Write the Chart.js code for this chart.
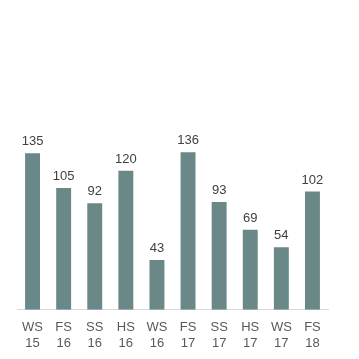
<!DOCTYPE html>
<html>
<head>
<meta charset="utf-8">
<script src="https://cdn.jsdelivr.net/npm/chart.js@4/dist/chart.umd.min.js"></script>
<style>
  html, body { margin: 0; padding: 0; background: #fff; }
  #wrap { width: 359px; height: 359px; }
</style>
</head>
<body>
<div id="wrap"><canvas id="myChart"></canvas></div>
<script>
// semesters and counts
var semesters = [['WS','15'], ['FS','16'], ['SS','16'], ['HS','16'], ['WS','16'],
                 ['FS','17'], ['SS','17'], ['HS','17'], ['WS','17'], ['FS','18']];
var counts = [135, 105, 92, 120, 43, 136, 93, 69, 54, 102];

// value labels over the bars
var valueLabels = {
  id: 'valueLabels',
  afterDatasetsDraw: function(chart) {
    var ctx = chart.ctx;
    var meta = chart.getDatasetMeta(0);
    ctx.save();
    ctx.font = '13px "Liberation Sans", Arial, sans-serif';
    ctx.fillStyle = '#404040';
    ctx.textAlign = 'center';
    ctx.textBaseline = 'alphabetic';
    meta.data.forEach(function(bar, i) {
      ctx.fillText(counts[i], bar.x, bar.y - 8);
    });
    ctx.restore();
  }
};

var ctx = document.getElementById('myChart').getContext('2d');
var myChart = new Chart(ctx, {
  type: 'bar',
  data: {
    labels: semesters,
    datasets: [{
      label: 'Anzahl',
      data: counts,
      backgroundColor: '#6a8888',
      barPercentage: 0.96,
      categoryPercentage: 0.5
    }]
  },
  options: {
    responsive: true,
    maintainAspectRatio: false,
    animation: false,
    layout: { padding: { left: 17, right: 31, top: 78, bottom: 6 } },
    scales: {
      x: {
        grid: { display: false },
        border: { display: true, color: '#d9d9d9', width: 1 },
        ticks: {
          color: '#595959',
          padding: 2,
          maxRotation: 0,
          autoSkip: false,
          font: { family: '"Liberation Sans", Arial, sans-serif', size: 13, lineHeight: 1.2 }
        }
      },
      y: {
        display: false,
        min: 0,
        max: 200
      }
    },
    plugins: {
      legend: { display: false },
      tooltip: { enabled: false }
    }
  },
  plugins: [valueLabels]
});
</script>
</body>
</html>
